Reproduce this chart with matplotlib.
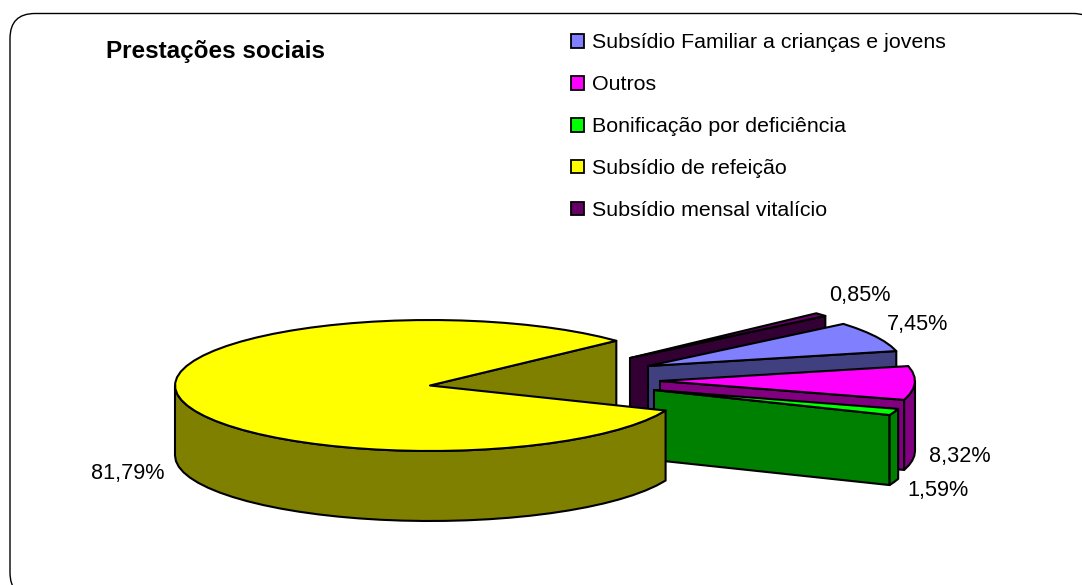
import numpy as np
import matplotlib
matplotlib.use("Agg")
import matplotlib.pyplot as plt
from matplotlib.patches import Polygon, Patch, FancyBboxPatch

# ---- data ----
categories = ["Subsídio Familiar a crianças e jovens", "Outros",
              "Bonificação por deficiência", "Subsídio de refeição",
              "Subsídio mensal vitalício"]
shares = [7.45, 8.32, 1.59, 81.79, 0.85]
colors_top = ["#8080FF", "#FF00FF", "#00FF00", "#FFFF00", "#660066"]
colors_side = ["#404080", "#800080", "#008000", "#808000", "#330033"]

# ---- layout (pixels) ----
W, H = 1082, 585
RX, RY, DEPTH = 255, 65.5, 70
START_T = 40.0  # polar angle where the first slice starts, going clockwise
centres = [(648, 366), (660, 381), (654, 390), (430, 385.5), (630, 358)]
label_pos = [(918, 324.5), (960, 456.5), (938, 490.5), (128, 473), (860, 295)]
draw_order = [4, 0, 1, 2, 3]
LW = 1.5

plt.rcParams['font.family'] = ['Liberation Sans', 'DejaVu Sans']
fig = plt.figure(figsize=(W / 100, H / 100), dpi=100, facecolor="white")
ax = fig.add_axes([0, 0, 1, 1])
ax.set_xlim(0, W)
ax.set_ylim(H, 0)
ax.axis("off")

# frame, running off the right and bottom edges of the canvas
ax.add_patch(FancyBboxPatch((10, 13.5), 1088, 584,
                            boxstyle="round,pad=0,rounding_size=25",
                            fc="white", ec="black", lw=1.0, clip_on=True))

# slice angles
spans = np.array(shares) * 3.6
angles = []
t = START_T
for s in spans:
    angles.append((t, t - s))
    t -= s


def arc(cx, cy, t1, t2):
    n = max(2, int(abs(t1 - t2) / 5) + 2)
    a = np.radians(np.linspace(t1, t2, n))
    return np.column_stack([cx + RX * np.cos(a), cy - RY * np.sin(a)])


for i in draw_order:
    cx, cy = centres[i]
    t1, t2 = angles[i]
    kw = dict(closed=True, ec="black", lw=LW, joinstyle="round")
    # flat face on the clockwise end of the slice
    face_pt = arc(cx, cy, t2, t2)[0]
    ax.add_patch(Polygon([(cx, cy), face_pt, face_pt + [0, DEPTH], (cx, cy + DEPTH)],
                         fc=colors_side[i], **kw))
    # outer wall: the part of the arc on the near half
    wall_hi = min(t1, 0.0)
    wall_lo = max(t2, -180.0)
    if wall_hi > wall_lo:
        upper = arc(cx, cy, wall_hi, wall_lo)
        lower = upper[::-1] + [0, DEPTH]
        ax.add_patch(Polygon(np.vstack([upper, lower]), fc=colors_side[i], **kw))
    # top
    ax.add_patch(Polygon(np.vstack([[(cx, cy)], arc(cx, cy, t1, t2)]),
                         fc=colors_top[i], **kw))

# value labels
for v, (x, y) in zip(shares, label_pos):
    ax.text(x, y, f"{v:.2f}%".replace(".", ","), ha="center", va="center",
            fontsize=15.6, color="black")

ax.text(106, 51.5, "Prestações sociais", fontsize=17.5, fontweight="bold",
        ha="left", va="center")

handles = [Patch(fc=c, ec="black", lw=1.3) for c in colors_top]
ax.legend(handles, categories, loc="upper left", bbox_to_anchor=(571 / W, 1 - 33.5 / H),
          frameon=False, fontsize=15.4, labelspacing=1.07, handlelength=0.6,
          handleheight=0.6, handletextpad=0.4, borderpad=0, borderaxespad=0)

fig.savefig("out.png", dpi=100, facecolor="white")
